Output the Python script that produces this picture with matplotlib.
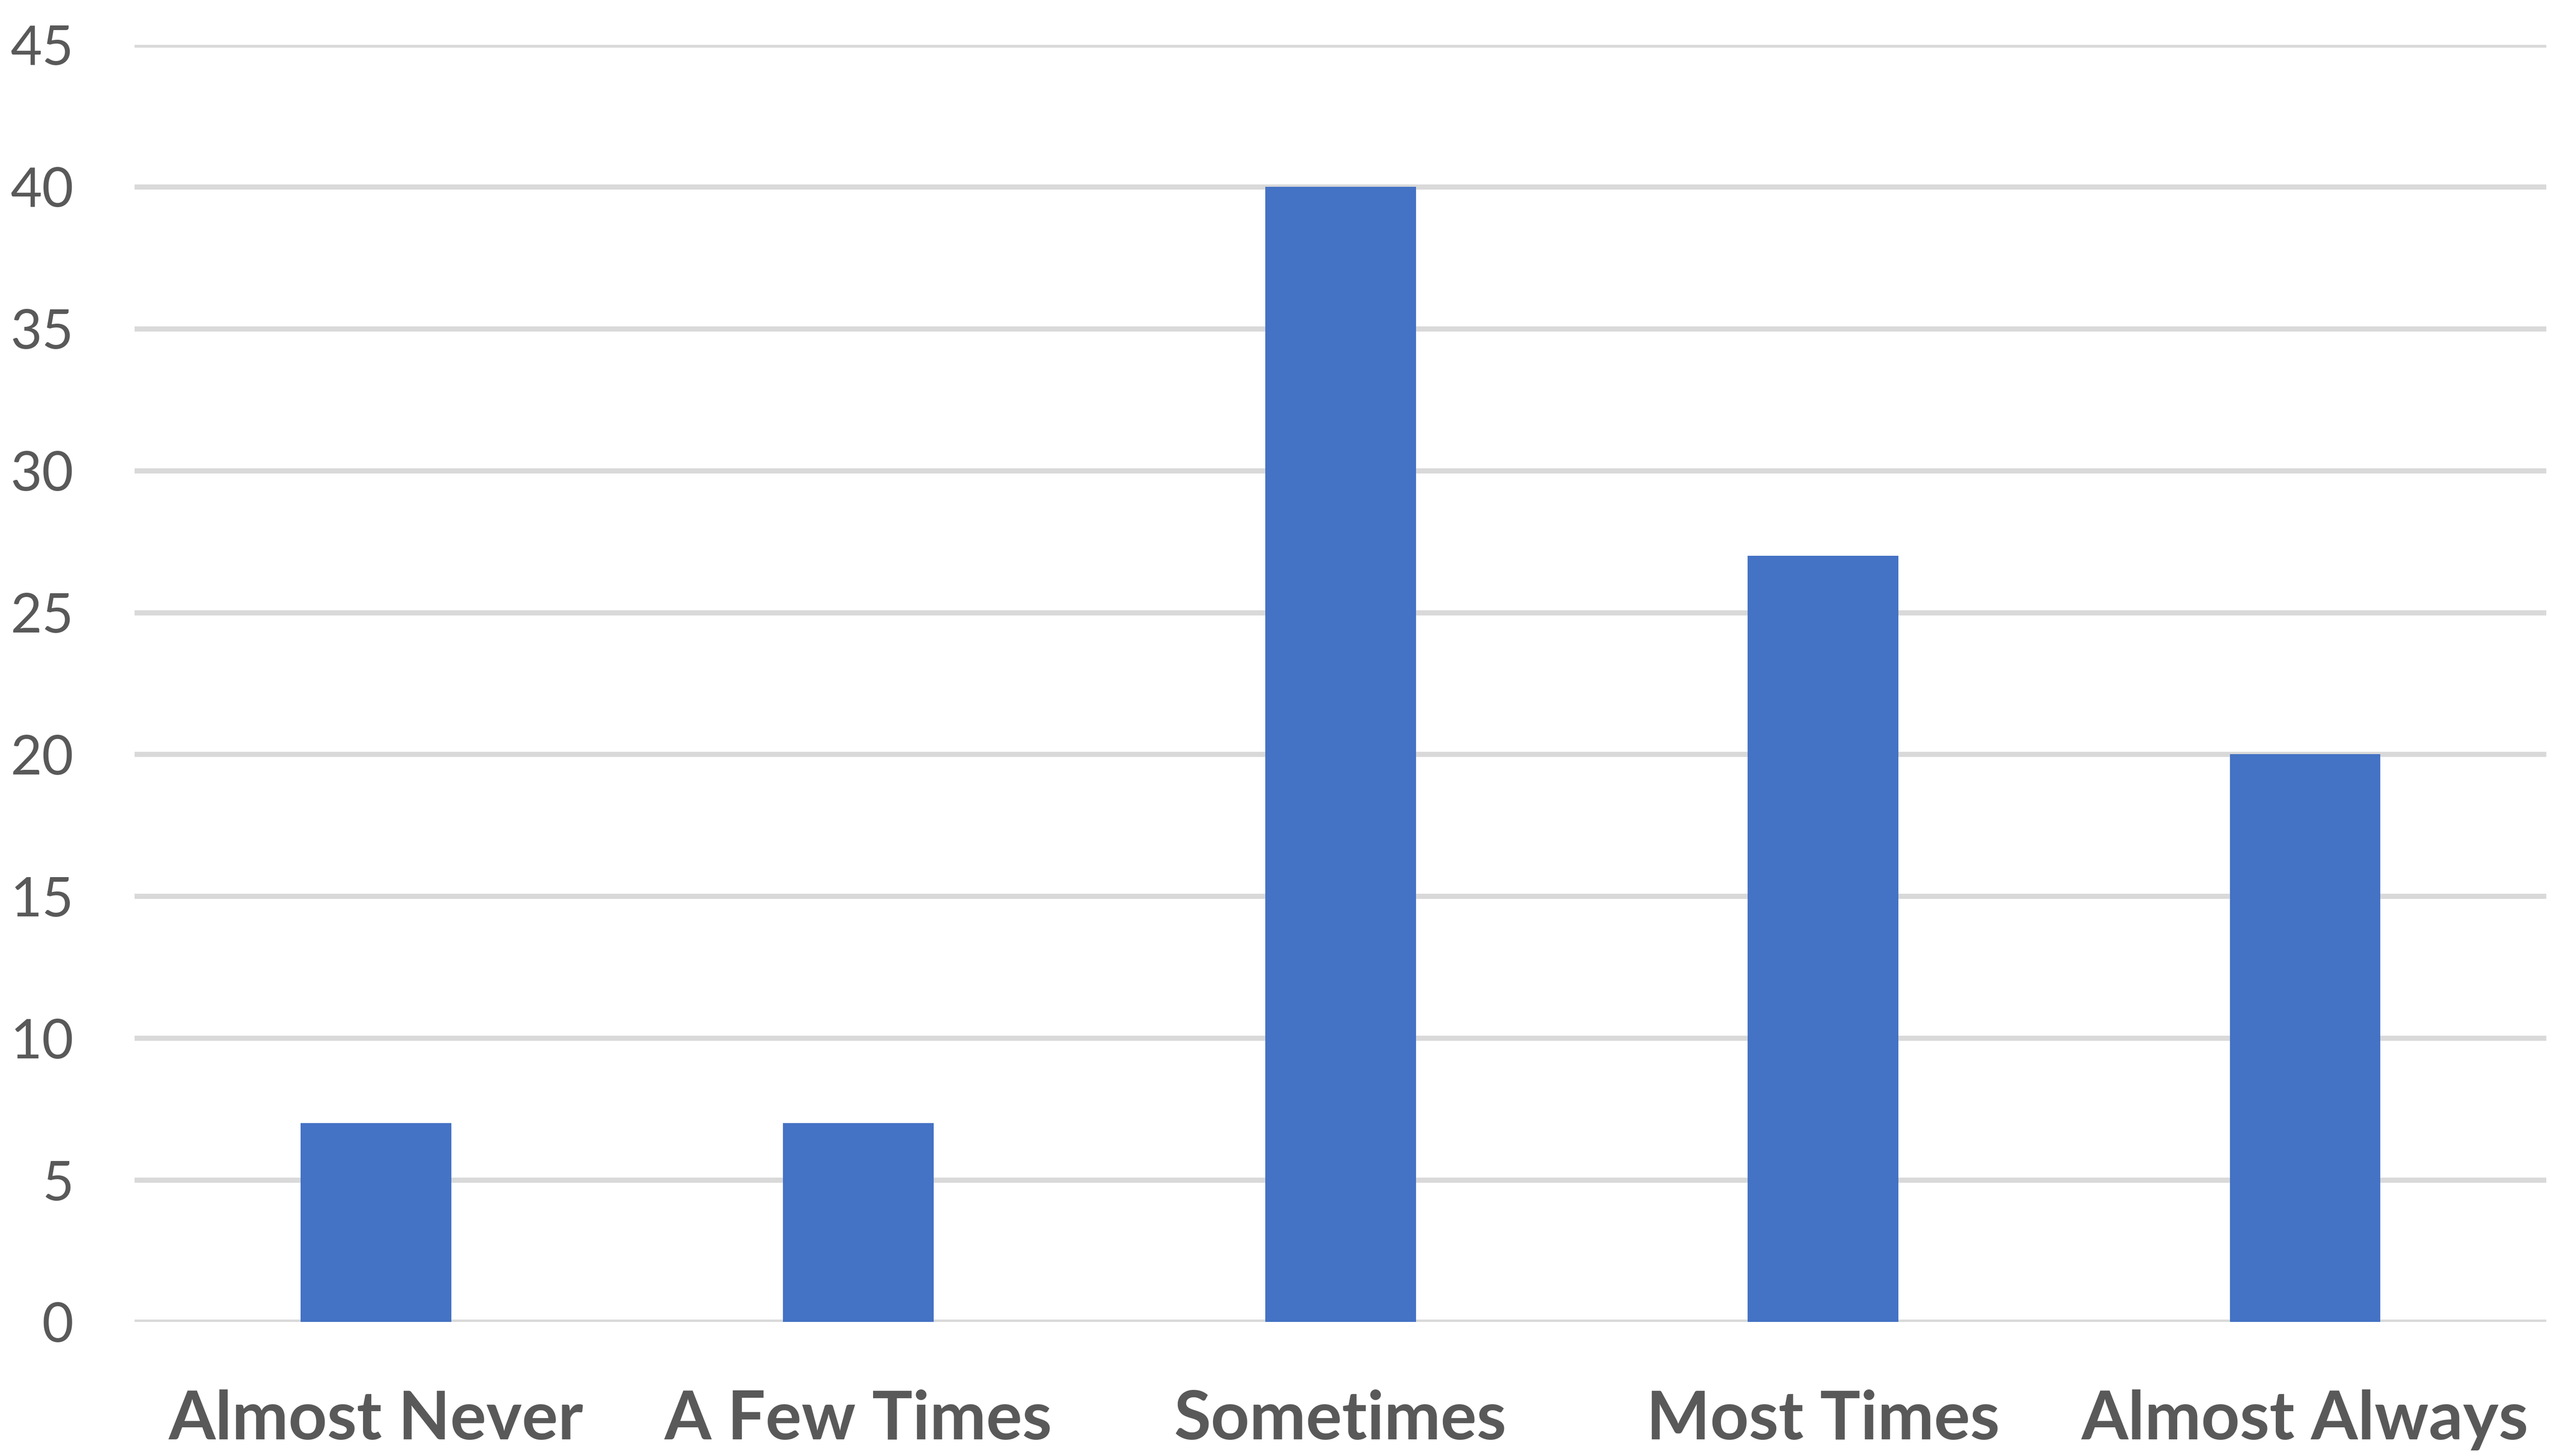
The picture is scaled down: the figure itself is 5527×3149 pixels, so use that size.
import matplotlib
matplotlib.use('Agg')
import matplotlib.pyplot as plt
import numpy as np

#-------------------------------------------------------------------------------------
categories = ['Almost Never', 'A Few Times', 'Sometimes', 'Most Times', 'Almost Always']
counts = [7, 7, 40, 27, 20]
yticks = [0, 5, 10, 15, 20, 25, 30, 35, 40, 45]

bar_color = '#4472C4'
grid_color = '#D9D9D9'
text_color = '#595959'

#-------------------------------------------------------------------------------------
fig = plt.figure(figsize=(55.27, 31.49), dpi=100)
ax = fig.add_axes([0.0527, 0.0921, 0.9435, 0.8771])

x = np.arange(len(categories))
ax.bar(x, counts, width=0.3125, color=bar_color, zorder=3)

ax.set_xlim(-0.5, len(categories) - 0.5)
ax.set_ylim(0, 45)
ax.set_yticks(yticks)
ax.set_xticks(x)
ax.set_xticklabels(categories, fontfamily='Lato', fontweight='bold', fontsize=105, color=text_color)
for lab in ax.get_yticklabels():
    lab.set_fontfamily('Lato')
    lab.set_fontsize(85)
    lab.set_color(text_color)

ax.tick_params(axis='both', length=0)
ax.tick_params(axis='y', pad=95)
ax.tick_params(axis='x', pad=105)

ax.yaxis.grid(True, color=grid_color, linewidth=8, zorder=0)
ax.set_axisbelow(True)
for s in ax.spines.values():
    s.set_visible(False)

fig.savefig('out.png', dpi=100, facecolor='white')
